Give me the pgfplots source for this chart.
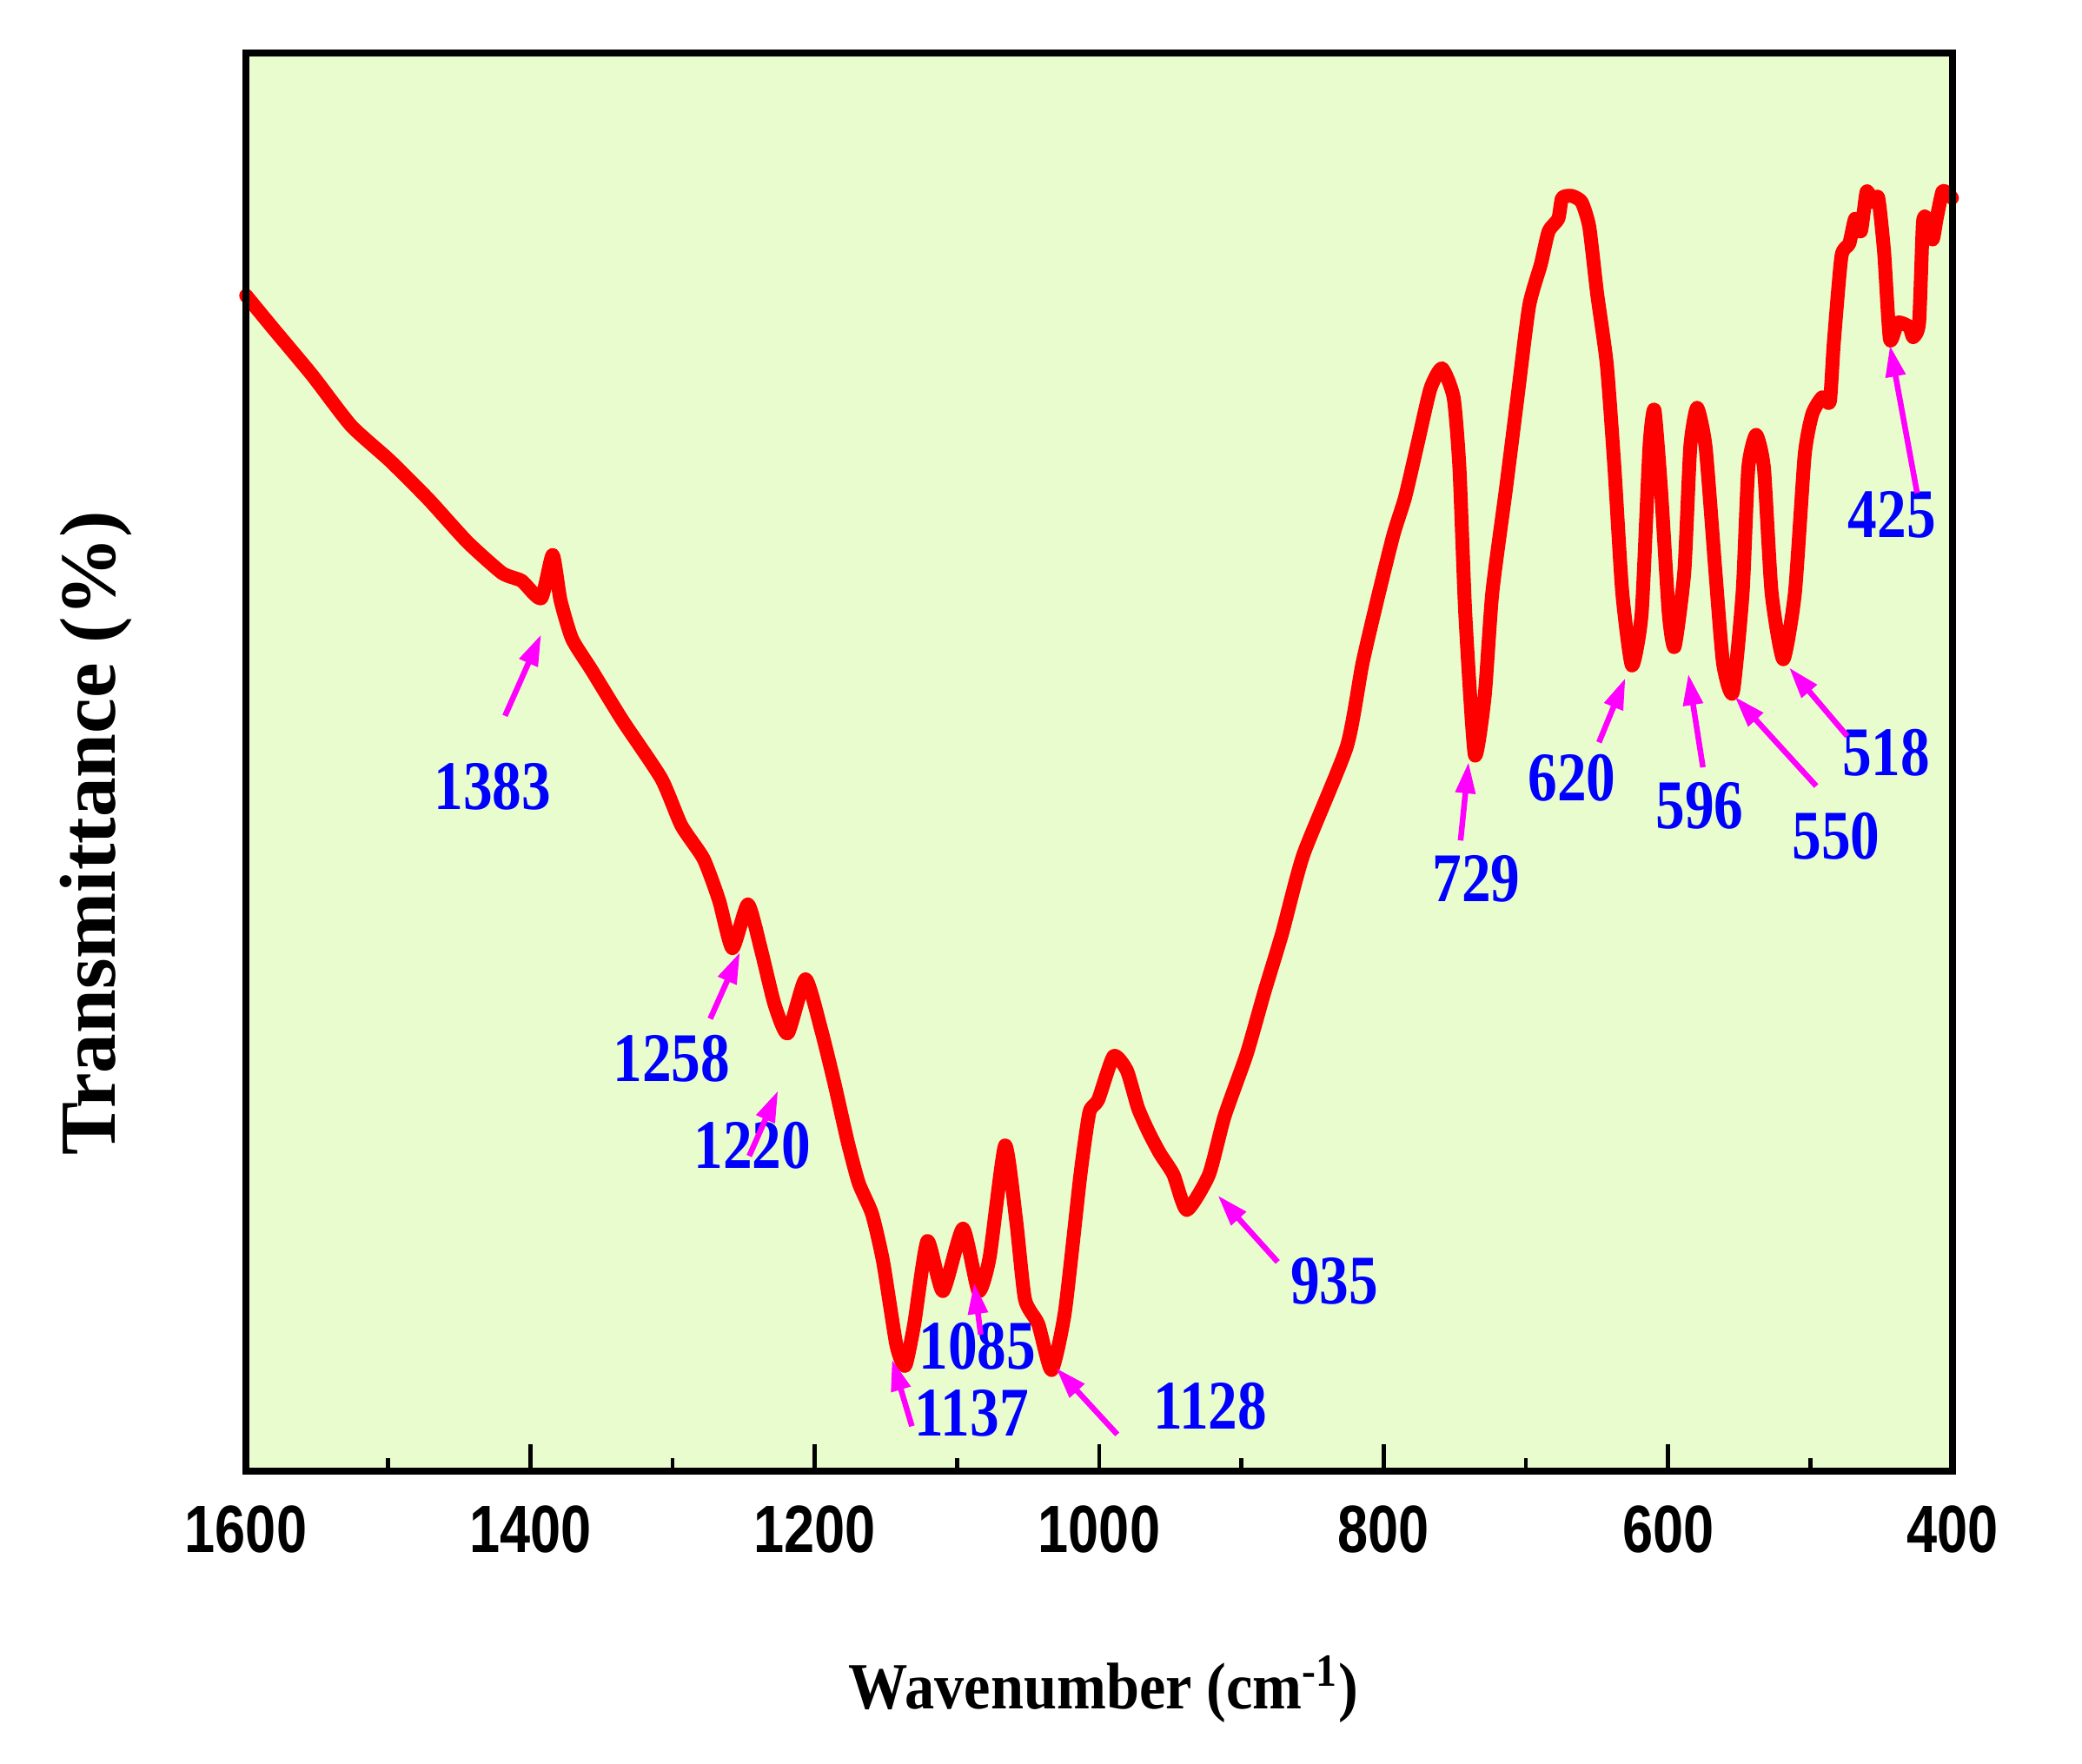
\documentclass[border=0pt]{standalone}
\usepackage{pgfplots}
\pgfplotsset{compat=1.18}
\usetikzlibrary{arrows.meta}
\usepackage{fontspec}
\setmainfont{Liberation Serif}
\newfontfamily\annfont[FakeStretch=0.84]{Liberation Serif}
\newfontfamily\tickfont[FakeStretch=0.82]{Liberation Sans}
\newfontfamily\xlabfont[FakeStretch=0.9]{Liberation Serif}
\definecolor{bgc}{RGB}{232,252,206}
\definecolor{annblue}{RGB}{0,0,255}
\definecolor{arrmag}{RGB}{255,0,255}
\tikzset{
  ann/.style={text=annblue,inner sep=0pt,font=\annfont\bfseries\fontsize{22.8}{27}\selectfont},
  arr/.style={draw=arrmag,line width=0.065cm,-{Triangle[length=0.36cm,width=0.22cm]}}
}
\begin{document}
\begin{tikzpicture}
\path[use as bounding box] (-2.83cm,-3.37cm) rectangle (21.13cm,16.93cm);
\begin{axis}[
  scale only axis,
  width=19.64cm, height=16.32cm,
  xmin=400, xmax=1600, ymin=0, ymax=100,
  x dir=reverse,
  axis background/.style={fill=bgc},
  axis line style={line width=0.08cm},
  axis on top,
  clip=false,
  ytick=\empty,
  xtick={1600,1400,1200,1000,800,600,400},
  xticklabels={1600,1400,1200,1000,800,600,400},
  minor xtick={1500,1300,1100,900,700,500},
  xtick pos=bottom,
  tick align=inside,
  major tick length=0.31cm,
  minor tick length=0.15cm,
  every tick/.style={black,line width=0.045cm},
  xticklabel style={anchor=base,yshift=-0.94cm,inner sep=0pt,font=\tickfont\bfseries\fontsize{21.9}{26}\selectfont},
]
\addplot[red,line width=0.16cm,line join=round,line cap=round,smooth,tension=0.35] coordinates {
(1599.8,82.89) (1580.7,80.56) (1553.4,77.28) (1526.1,73.73) (1498.8,71.26)
(1471.6,68.53) (1444.3,65.52) (1419.8,63.33) (1406.1,62.78) (1392.4,61.55)
(1384.3,64.6) (1378.8,61.42) (1370.6,58.68) (1357.0,56.50) (1335.2,52.94)
(1307.9,48.84) (1293.8,45.53) (1278.2,43.18) (1267.3,40.25) (1257.9,36.88)
(1247.0,39.96) (1237.7,36.74) (1228.3,32.92) (1219.0,30.87) (1206.5,34.68)
(1195.6,31.17) (1186.2,27.36) (1176.9,23.25) (1169.1,20.32) (1159.7,18.13)
(1151.9,14.75) (1142.6,8.89) (1136.4,7.43) (1130.1,10.36) (1120.8,16.22)
(1109.9,12.70) (1095.8,17.10) (1084.9,12.70) (1077.1,15.05) (1066.2,22.96)
(1058.4,17.68) (1052.2,12.12) (1042.8,10.36) (1033.5,7.13) (1024.1,11.24)
(1013.2,20.91) (1006.9,25.30) (1000.7,26.18) (989.9,29.26) (980.5,28.24)
(972.7,25.60) (964.9,23.84) (957.1,22.37) (947.8,20.91) (938.4,18.42)
(922.8,20.91) (911.9,25.01) (896.3,29.41) (883.8,33.80) (871.4,37.91)
(856.4,43.48) (825.9,51.09) (814.9,56.95) (804.0,61.64) (793.1,66.04)
(784.9,68.67) (776.7,72.19) (767.2,76.30) (759.0,77.76) (750.8,75.71)
(746.7,70.73) (742.6,60.47) (735.9,50.51) (729.0,54.61) (723.6,61.94)
(714.0,69.26) (705.9,75.71) (697.7,82.16) (689.5,85.09) (684.0,87.43)
(677.2,88.31) (674.5,89.78) (667.7,89.92) (660.8,89.49) (655.4,87.73)
(649.9,83.04) (643.1,78.05) (637.7,70.73) (632.2,61.94) (625.4,56.81)
(618.6,60.47) (613.1,72.19) (609.6,74.83) (605.0,69.26) (599.5,60.47)
(595.4,58.13) (588.6,63.40) (584.4,72.19) (579.6,74.98) (573.6,72.19)
(566.7,63.40) (561.3,56.95) (554.5,54.90) (547.6,61.94) (543.6,70.73)
(538.1,73.07) (532.6,70.73) (527.2,61.94) (519.0,57.25) (510.8,61.94)
(504.0,71.61) (498.6,74.54) (491.7,75.71) (486.3,75.42) (483.5,79.52)
(478.1,85.67) (472.6,86.55) (468.5,88.31) (464.4,87.43) (460.4,90.22)
(456.3,89.49) (452.2,89.78) (448.1,85.97) (444.0,79.81) (438.5,80.99)
(430.4,80.69) (427.7,79.96) (423.5,80.99) (420.8,88.02) (418.1,88.31)
(414.0,86.85) (411.2,88.31) (407.1,90.22) (403.1,90.07) (400.4,89.78)
};
% annotations
\node[ann] at (axis cs:1426.5,48.28) {1383};
\draw[arr] (axis cs:1417.8,53.26) -- (axis cs:1392.4,59.0);
\node[ann] at (axis cs:1300.8,29.12) {1258};
\draw[arr] (axis cs:1273.5,31.90) -- (axis cs:1252.6,36.59);
\node[ann] at (axis cs:1243.9,22.96) {1220};
\draw[arr] (axis cs:1246.1,22.22) -- (axis cs:1225.8,26.83);
\node[ann] at (axis cs:1089.6,4.06) {1137};
\draw[arr] (axis cs:1131.7,3.17) -- (axis cs:1145.7,7.87);
\node[ann] at (axis cs:1085.7,8.82) {1085};
\draw[arr] (axis cs:1083.3,9.63) -- (axis cs:1088.0,13.29);
\node[ann] at (axis cs:922.0,4.57) {1128};
\draw[arr] (axis cs:987.3,2.59) -- (axis cs:1030.4,7.28);
\node[ann] at (axis cs:834.7,13.39) {935};
\draw[arr] (axis cs:874.5,14.75) -- (axis cs:916.6,19.44);
\node[ann] at (axis cs:734.8,41.76) {729};
\draw[arr] (axis cs:745.9,44.47) -- (axis cs:740.3,50.0);
\node[ann] at (axis cs:667.6,48.89) {620};
\draw[arr] (axis cs:648.6,51.39) -- (axis cs:630.0,55.93);
\node[ann] at (axis cs:577.9,46.91) {596};
\draw[arr] (axis cs:575.5,49.63) -- (axis cs:585.8,56.22);
\node[ann] at (axis cs:481.8,44.76) {550};
\draw[arr] (axis cs:495.8,48.31) -- (axis cs:553.1,54.61);
\node[ann] at (axis cs:446.7,50.66) {518};
\draw[arr] (axis cs:474.0,51.83) -- (axis cs:514.9,56.66);
\node[ann] at (axis cs:442.6,67.43) {425};
\draw[arr] (axis cs:424.9,68.97) -- (axis cs:444.0,79.38);
\end{axis}
\node[anchor=base,inner sep=0pt,font=\xlabfont\bfseries\fontsize{21.6}{26}\selectfont] at (9.87cm,-2.74cm) {Wavenumber (cm\textsuperscript{-1})};
\node[anchor=base,rotate=90,inner sep=0pt,font=\bfseries\fontsize{26}{31}\selectfont] at (-1.50cm,7.34cm) {Transmittance (\%)};
\end{tikzpicture}
\end{document}
